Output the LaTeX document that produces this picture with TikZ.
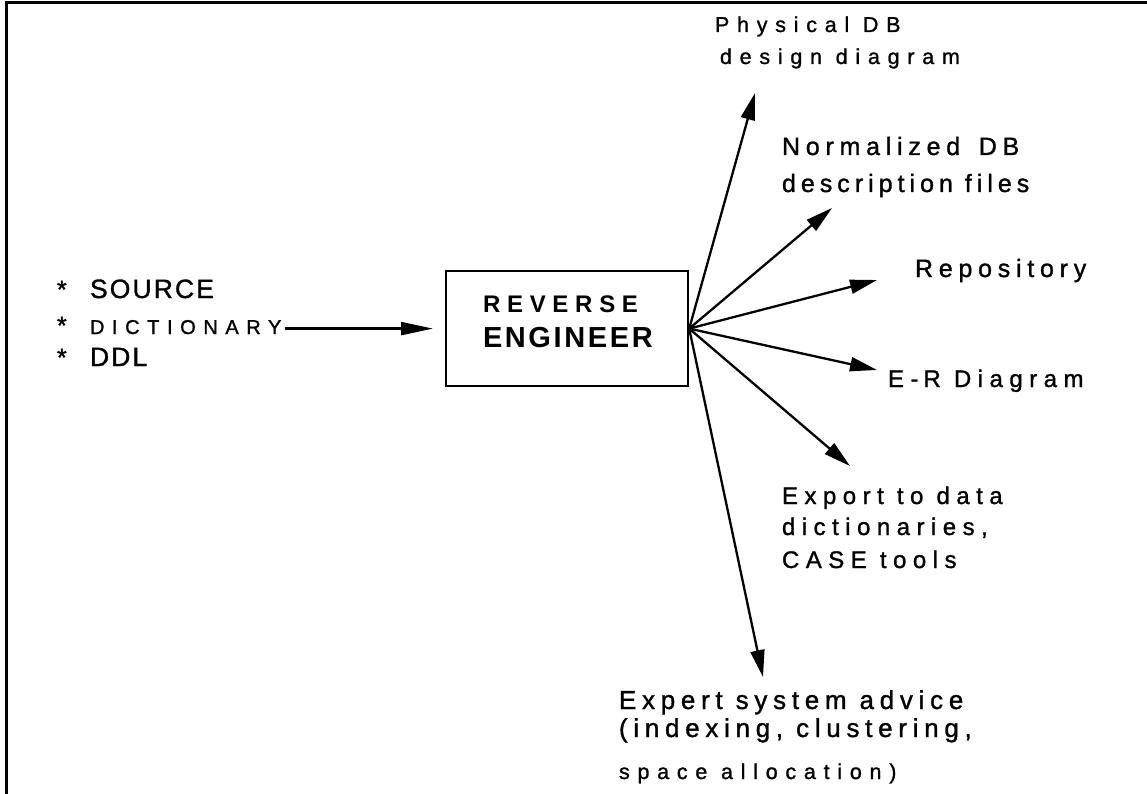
\documentclass[tikz,border=0pt]{standalone}
\usepackage{fontspec}
\setmainfont{Liberation Sans}
% letter-spaced families for the various labels
\defaultfontfeatures{FakeBold=1.2}
\newfontfamily\spMed[LetterSpace=23]{Liberation Sans}
\newfontfamily\spDesc[LetterSpace=20]{Liberation Sans}
\newfontfamily\spExp[LetterSpace=27]{Liberation Sans}
\newfontfamily\spAdv[LetterSpace=22]{Liberation Sans}
\newfontfamily\spSmall[LetterSpace=36]{Liberation Sans}
\newfontfamily\spDict[LetterSpace=38]{Liberation Sans}
\newfontfamily\spSrc[LetterSpace=8]{Liberation Sans}
\defaultfontfeatures{}
\newfontfamily\spRev[LetterSpace=28]{Liberation Sans}
\newfontfamily\spEng[LetterSpace=9]{Liberation Sans}
\usetikzlibrary{arrows.meta}
% list marker: asterisk of uniform size in a fixed-width slot
\newcommand{\bullstar}{\makebox[33pt][l]{\spSrc\fontsize{25}{30}\selectfont *}}
\begin{document}
\begin{tikzpicture}[x=1pt,y=-1pt,
  lbl/.style={anchor=base west, inner sep=0pt, outer sep=0pt},
  medlbl/.style={lbl, font=\spMed\fontsize{25}{30}\selectfont},
  desclbl/.style={lbl, font=\spDesc\fontsize{25}{30}\selectfont},
  explbl/.style={lbl, font=\spExp\fontsize{24}{28}\selectfont},
  advlbl/.style={lbl, font=\spAdv\fontsize{26}{30}\selectfont},
  smalllbl/.style={lbl, font=\spSmall\fontsize{21.5}{25}\selectfont},
  srclbl/.style={lbl, font=\spSrc\fontsize{26.5}{30}\selectfont},
  dictlbl/.style={lbl, font=\spDict\fontsize{20}{24}\selectfont},
  link/.style={line width=2.3pt, -{Triangle[length=27pt,width=14pt]}},
  feed/.style={line width=2.3pt, -{Triangle[length=32pt,width=13pt]}},
  frameline/.style={line width=3pt}
]
\useasboundingbox (0,0) rectangle (1147,794);
% open frame: top and left edges only
\draw[frameline] (6,794) -- (6,3) -- (1147,3);

% central box
\node[draw, line width=2.2pt, inner sep=0pt, minimum width=242pt, minimum height=115pt,
      anchor=north west] (re) at (445,270) {};
\node[lbl, font=\spRev\bfseries\fontsize{24}{28}\selectfont] (re1) at (483,312) {REVERSE};
\node[lbl, font=\spEng\bfseries\fontsize{29}{34}\selectfont] (re2) at (483,347) {ENGINEER};

% inputs
\node[srclbl] (src) at (57,298) {\bullstar SOURCE};
\node[dictlbl] (dict) at (57,334) {\bullstar DICTIONARY};
\node[srclbl] (ddl) at (57,366) {\bullstar DDL};
\draw[feed, shorten >=12pt] ([xshift=4pt]dict.east |- re.west) -- (re.west);

% outputs
\node[smalllbl] (phys1) at (715,32) {Physical DB};
\node[smalllbl] (phys2) at (720,64) {design diagram};
\node[medlbl] (norm1) at (782,155) {Normalized\hspace{6pt} DB};
\node[desclbl] (norm2) at (782,192) {description files};
\node[medlbl] (repo) at (915,277) {Repository};
\node[explbl] (er) at (888,387) {E-\hspace{5pt}R Diagram};
\node[explbl] (ex1) at (782,504) {Export to data};
\node[explbl] (ex2) at (782,535) {dictionaries,};
\node[explbl] (ex3) at (782,568) {CASE tools};
\node[advlbl] (adv1) at (619,709) {Expert system advice};
\node[advlbl] (adv2) at (619,737) {(indexing, clustering,};
\node[smalllbl] (adv3) at (619,779) {space allocation)};

% arrow tips of the fan
\coordinate (tPhys) at (755,93);
\coordinate (tNorm) at (832,208);
\coordinate (tRepo) at (877,280);
\coordinate (tEr) at (877,370);
\coordinate (tEx) at (850,466);
\coordinate (tAdv) at (763,677);

\foreach \t in {tPhys,tNorm,tRepo,tEr,tEx,tAdv}
  \draw[link] (re.east) -- (\t);
\end{tikzpicture}
\end{document}
